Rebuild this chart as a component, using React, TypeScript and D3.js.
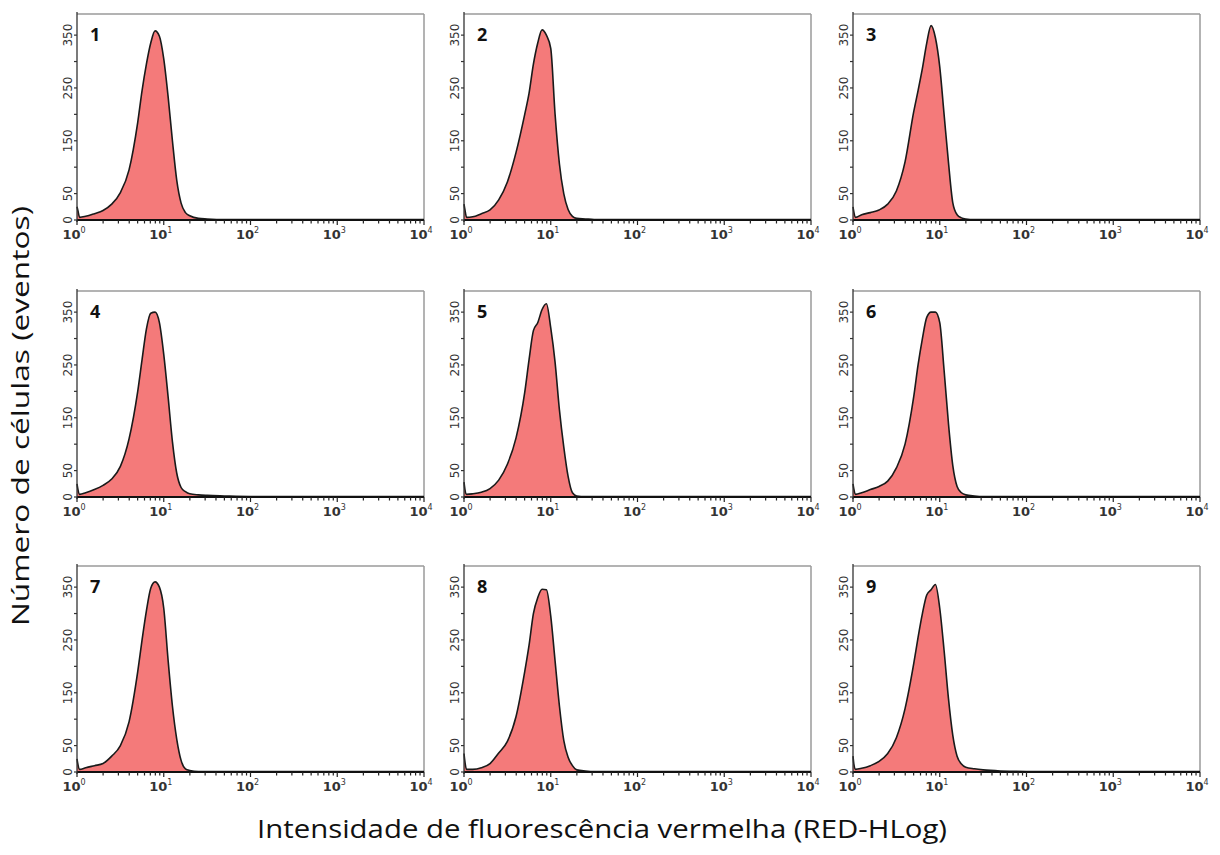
import React from "react";
import * as d3 from "d3";

// log10 of RED-HLog intensity at which counts were read
const logIntensity = [0, 0.01, 0.03, 0.1, 0.2, 0.3, 0.4, 0.5, 0.6, 0.7, 0.75, 0.8, 0.85, 0.9, 0.95, 1.0, 1.05, 1.1, 1.15, 1.2, 1.25, 1.3, 1.4, 1.5, 1.7, 2.0, 3.0, 4.0];

const counts1 = [25, 18, 5, 7, 12, 18, 30, 52, 95, 185, 245, 295, 335, 358, 348, 305, 234, 150, 75, 32, 14, 8, 3, 2, 1, 1, 1, 1];
const counts2 = [30, 20, 5, 6, 12, 19, 38, 72, 128, 200, 240, 295, 335, 360, 350, 325, 200, 106, 50, 20, 7, 3, 2, 1, 1, 1, 1, 1];
const counts3 = [25, 15, 5, 10, 14, 19, 30, 55, 110, 205, 245, 287, 335, 368, 345, 290, 200, 110, 33, 10, 4, 2, 1, 1, 1, 1, 1, 1];
const counts4 = [25, 15, 5, 8, 14, 22, 34, 58, 110, 200, 260, 318, 348, 350, 330, 270, 190, 105, 45, 18, 10, 6, 4, 3, 2, 1, 1, 1];
const counts5 = [28, 15, 5, 6, 9, 16, 32, 62, 112, 198, 260, 315, 330, 355, 366, 320, 255, 165, 95, 39, 8, 2, 1, 1, 1, 1, 1, 1];
const counts6 = [25, 15, 5, 8, 14, 20, 30, 55, 100, 190, 250, 300, 340, 350, 350, 330, 240, 140, 60, 20, 8, 4, 2, 1, 1, 1, 1, 1];
const counts7 = [25, 15, 5, 8, 12, 16, 30, 50, 95, 190, 250, 305, 348, 360, 350, 310, 212, 125, 62, 22, 6, 3, 1, 1, 1, 1, 1, 1];
const counts8 = [35, 20, 5, 5, 8, 16, 36, 58, 105, 190, 240, 300, 330, 346, 345, 295, 210, 125, 60, 28, 12, 4, 2, 1, 1, 1, 1, 1];
const counts9 = [30, 15, 5, 7, 12, 20, 35, 65, 120, 205, 255, 300, 335, 345, 355, 310, 230, 140, 70, 30, 15, 9, 6, 4, 2, 1, 1, 1];

const panelLabels = ["1", "2", "3", "4", "5", "6", "7", "8", "9"];
const panelCounts = [counts1, counts2, counts3, counts4, counts5, counts6, counts7, counts8, counts9];

const yTickValues = [0, 50, 100, 150, 200, 250, 300, 350];
const yLabelValues = [0, 50, 150, 250, 350];
const xDecades = [0, 1, 2, 3, 4];

const yAxisTitle = "Número de células (eventos)";
const xAxisTitle = "Intensidade de fluorescência vermelha (RED-HLog)";

const colLefts = [77, 464, 853];
const rowTops = [14, 291, 566];
const PW = 347;
const PH = 206;
const FILL = "#f47a7a";

function Panel({ idx }: { idx: number }) {
  const col = idx % 3;
  const row = Math.floor(idx / 3);
  const left = colLefts[col];
  const top = rowTops[row];
  const bottom = top + PH;
  const right = left + PW;
  const x = d3.scaleLog().domain([1, 1e4]).range([left, right]);
  const y = d3.scaleLinear().domain([0, 390]).range([bottom, top]);
  const data = logIntensity.map((l, i) => ({ v: Math.pow(10, l), c: panelCounts[idx][i] }));
  const area = d3
    .area<{ v: number; c: number }>()
    .x((d) => x(d.v))
    .y0(y(0))
    .y1((d) => y(d.c))
    .curve(d3.curveMonotoneX);
  const line = d3
    .line<{ v: number; c: number }>()
    .x((d) => x(d.v))
    .y((d) => y(d.c))
    .curve(d3.curveMonotoneX);
  const minor = x.ticks();
  return (
    <g>
      <line x1={left} y1={top} x2={right} y2={top} stroke="#9a9a9a" strokeWidth={1.5} />
      <line x1={right} y1={top} x2={right} y2={bottom} stroke="#9a9a9a" strokeWidth={1.5} />
      <path d={area(data) || ""} fill={FILL} />
      <path d={line(data) || ""} fill="none" stroke="#1a1a1a" strokeWidth={1.6} />
      <line x1={left} y1={bottom} x2={right} y2={bottom} stroke="#111" strokeWidth={2.2} />
      <line x1={left} y1={top - 2} x2={left} y2={bottom + 2} stroke="#333" strokeWidth={1.3} />
      {minor.map((t, i) => {
        const major = Math.abs(Math.log10(t) - Math.round(Math.log10(t))) < 1e-9;
        return (
          <line key={i} x1={x(t)} x2={x(t)} y1={bottom} y2={bottom + (major ? 5 : 3.5)} stroke="#222" strokeWidth={1.2} />
        );
      })}
      {yTickValues.map((t) => (
        <line key={t} x1={left - 3} x2={left} y1={y(t)} y2={y(t)} stroke="#333" strokeWidth={1.2} />
      ))}
      {yLabelValues.map((t) => (
        <text
          key={t}
          transform={`translate(${left - 5},${y(t)}) rotate(-90)`}
          textAnchor="middle"
          fontFamily="DejaVu Sans, sans-serif"
          fontSize={12}
          fill="#333"
        >
          {t}
        </text>
      ))}
      {xDecades.map((e) => (
        <text
          key={e}
          x={x(Math.pow(10, e)) - 3}
          y={bottom + 19}
          textAnchor="middle"
          fontFamily="DejaVu Sans, sans-serif"
          fontSize={13}
          fontWeight="bold"
          fill="#333"
        >
          10
          <tspan dy={-6} fontSize={8} fontWeight="normal">
            {e}
          </tspan>
        </text>
      ))}
      <text x={left + 13} y={top + 27} fontFamily="Open Sans, sans-serif" fontWeight="bold" fontSize={18} fill="#111">
        {panelLabels[idx]}
      </text>
    </g>
  );
}

export default function App() {
  return (
    <svg
      width={1220}
      height={855}
      style={{ position: "absolute", left: 0, top: 0, background: "#fff" }}
    >
      <rect x={0} y={0} width={1220} height={855} fill="#fff" />
      {panelLabels.map((_, i) => (
        <Panel key={i} idx={i} />
      ))}
      <text
        transform="translate(29,416) rotate(-90)"
        textAnchor="middle"
        fontFamily="Open Sans, sans-serif"
        fontSize={24}
        fill="#111"
        textLength={420}
        lengthAdjust="spacingAndGlyphs"
      >
        {yAxisTitle}
      </text>
      <text
        x={602}
        y={838}
        textAnchor="middle"
        fontFamily="Open Sans, sans-serif"
        fontSize={25}
        fill="#111"
        textLength={690}
        lengthAdjust="spacingAndGlyphs"
      >
        {xAxisTitle}
      </text>
    </svg>
  );
}
